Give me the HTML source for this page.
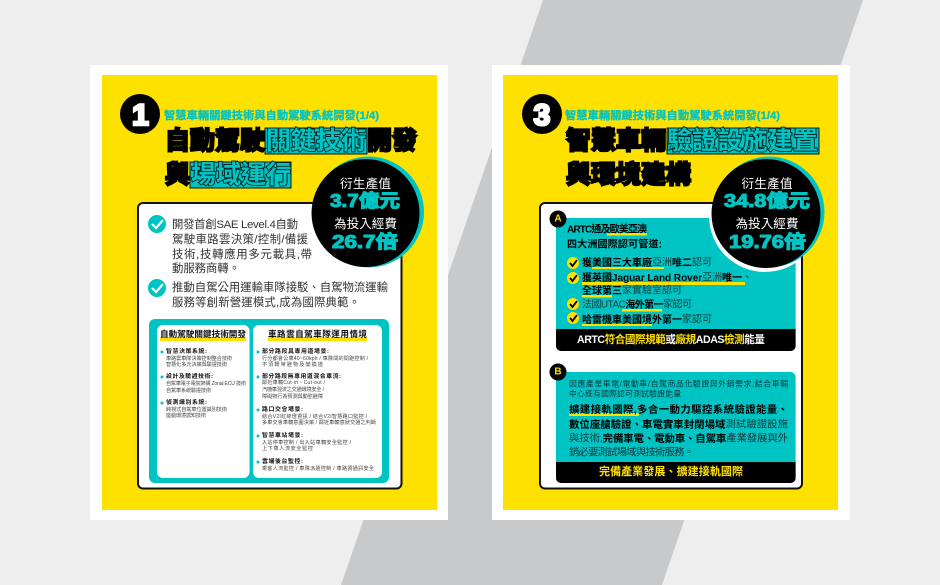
<!DOCTYPE html>
<html lang="zh-Hant">
<head>
<meta charset="utf-8">
<title>智慧車輛關鍵技術與自動駕駛系統開發</title>
<style>
html,body{margin:0;padding:0;background:#eee;width:940px;height:585px;overflow:hidden}
svg{display:block}
text{font-family:"Liberation Sans","Noto Sans CJK TC",sans-serif;dominant-baseline:central}
.sub{font-size:11px;font-weight:700;fill:#00c4c4;stroke:#00c4c4;stroke-width:.3px}
.hd{font-size:25px;font-weight:700;fill:#000;stroke:#000;stroke-width:2.2px}
.hl{font-size:25px;font-weight:700;fill:#00c4c4;stroke:#062c2c;stroke-width:2px;paint-order:stroke}
.cw{font-size:12.6px;fill:#fff}
.cn{font-weight:700;fill:#00c4c4;stroke:#00c4c4;stroke-width:1.1px}
.big{font-size:11.4px;fill:#333}
.card-h{font-size:8.6px;font-weight:700;fill:#111}
.t{font-size:5.9px;font-weight:700;fill:#111}
.s{font-size:5.1px;fill:#444}
.a{font-size:10px;fill:#1a3a3a}
.b{font-weight:700;fill:#000}
.p1{font-size:7.8px;fill:#12383a}
.p2{font-size:10.4px;fill:#12383a}
.bar{font-size:10.6px;font-weight:700;fill:#fff}
.y{fill:#ffe100}
.ul{fill:#ffe100}
</style>
</head>
<body>
<svg width="940" height="585" viewBox="0 0 940 585" xmlns="http://www.w3.org/2000/svg">
<defs>
<clipPath id="clipR"><rect x="541" y="204" width="260" height="283"/></clipPath>
</defs>
<rect width="940" height="585" fill="#eeeeee"/>
<polygon points="543,0 863,0 662,585 341,585" fill="#c8c9ca"/>

<!-- LEFT CARD -->
<g>
<rect x="90" y="65" width="358" height="455" fill="#fff"/>
<rect x="102" y="75" width="335" height="435" fill="#ffe100"/>
<circle cx="140" cy="114" r="20" fill="#000"/>
<text x="140.500" y="115.500" text-anchor="middle" font-size="30" font-weight="700" fill="#fff" stroke="#fff" stroke-width="2.600">1</text>
<text class="sub" x="164" y="116" textLength="215" lengthAdjust="spacingAndGlyphs">智慧車輛關鍵技術與自動駕駛系統開發(1/4)</text>

<rect x="265" y="128" width="102" height="26" fill="#00c4c4" stroke="#111" stroke-width="1"/>
<rect x="190" y="162" width="101" height="26" fill="#00c4c4" stroke="#111" stroke-width="1"/>
<text class="hd" x="165" y="141" textLength="100">自動駕駛</text>
<text class="hl" x="266" y="141" textLength="100">關鍵技術</text>
<text class="hd" x="367" y="141" textLength="50">開發</text>
<text class="hd" x="165" y="175">與</text>
<text class="hl" x="191" y="175" textLength="100">場域運行</text>

<rect x="138" y="203" width="263.500" height="285.500" rx="5" fill="#fff" stroke="#111" stroke-width="2"/>

<circle cx="157" cy="224" r="9" fill="#00c4c4"/>
<polyline points="152,224 156,228 163,220" fill="none" stroke="#fff" stroke-width="2.2"/>
<text class="big" x="172" y="225" textLength="126">開發首創SAE Level.4自動</text>
<text class="big" x="172" y="240" textLength="136">駕駛車路雲決策/控制/備援</text>
<text class="big" x="172" y="255" textLength="140">技術,技轉應用多元載具,帶</text>
<text class="big" x="172" y="269" textLength="68">動服務商轉。</text>
<circle cx="157" cy="288" r="9" fill="#00c4c4"/>
<polyline points="152,288 156,292 163,284" fill="none" stroke="#fff" stroke-width="2.2"/>
<text class="big" x="172" y="288" textLength="216">推動自駕公用運輸車隊接駁、自駕物流運輸</text>
<text class="big" x="172" y="303" textLength="188">服務等創新營運模式,成為國際典範。</text>

<rect x="149" y="319" width="240" height="164" rx="6" fill="#00c4c4"/>
<rect x="157" y="325" width="92.500" height="153" rx="6" fill="#fff"/>
<rect x="253" y="325" width="129" height="153" rx="6" fill="#fff"/>
<rect x="160" y="337" width="86" height="4" class="ul"/>
<rect x="268" y="337" width="99" height="4" class="ul"/>
<text class="card-h" x="160" y="334" textLength="86">自動駕駛關鍵技術開發</text>
<text class="card-h" x="268" y="334" textLength="99">車路雲自駕車隊運用情境</text>

<g>
<circle cx="162" cy="352" r="1.500" fill="#00c4c4"/><circle cx="162" cy="377" r="1.500" fill="#00c4c4"/><circle cx="162" cy="403" r="1.500" fill="#00c4c4"/>
<text class="t" x="166" y="352" textLength="41">智慧決策系統:</text>
<text class="s" x="166" y="359" textLength="66">車路雲車隊決策控制整合技術</text>
<text class="s" x="166" y="365" textLength="61">智慧化多元決策與驗證技術</text>
<text class="t" x="166" y="377" textLength="47">設計及驗證技術:</text>
<text class="s" x="166" y="384" textLength="80">自駕車電子電氣架構 Zonal ECU 技術</text>
<text class="s" x="166" y="391" textLength="45">自駕車系統驗證技術</text>
<text class="t" x="166" y="403" textLength="41">偵測識別系統:</text>
<text class="s" x="166" y="410" textLength="61">純視式自駕車位置識別技術</text>
<text class="s" x="166" y="416" textLength="40">座艙環境感知技術</text>
</g>

<g>
<circle cx="258" cy="352" r="1.500" fill="#00c4c4"/><circle cx="258" cy="377" r="1.500" fill="#00c4c4"/><circle cx="258" cy="410" r="1.500" fill="#00c4c4"/><circle cx="258" cy="436" r="1.500" fill="#00c4c4"/><circle cx="258" cy="462" r="1.500" fill="#00c4c4"/>
<text class="t" x="262" y="352" textLength="67">部分路段具專用道場景:</text>
<text class="s" x="262" y="359" textLength="106">行分都會公車40~60kph / 車隊間的間距控制 /</text>
<text class="s" x="262" y="365" textLength="61">不須轉彎避物及變換道</text>
<text class="t" x="262" y="377" textLength="79">部分路段無專用道混合車流:</text>
<text class="s" x="262" y="383" textLength="63">鄰近車輛Cut-in、Cut-out /</text>
<text class="s" x="262" y="390" textLength="62">汽機車混流之交通環境安全 /</text>
<text class="s" x="262" y="397" textLength="61">障礙物行為預測與動態避障</text>
<text class="t" x="262" y="410" textLength="41">路口交會場景:</text>
<text class="s" x="262" y="417" textLength="105">結合V2I紅綠燈資訊 / 結合V2I智慧路口監控 /</text>
<text class="s" x="262" y="423" textLength="114">多車交會車輛意圖決策 / 鄰近車輛意狀交通之判斷</text>
<text class="t" x="262" y="436" textLength="41">智慧車站場景:</text>
<text class="s" x="262" y="443" textLength="89">入站停車控制 / 出入站車輛安全監控 /</text>
<text class="s" x="262" y="449" textLength="51">上下車人流安全監控</text>
<text class="t" x="262" y="462" textLength="41">雲端後台監控:</text>
<text class="s" x="262" y="469" textLength="112">乘客人流監控 / 車隊派遣控制 / 車路資通訊安全</text>
</g>

<g>
<circle cx="368.500" cy="212" r="55.500" fill="#00c4c4"/>
<circle cx="365.500" cy="213" r="54" fill="#000"/>
<text class="cw" x="365.500" y="184" text-anchor="middle" textLength="51">衍生產值</text>
<text class="cn" x="330" y="201" font-size="18" textLength="70" lengthAdjust="spacingAndGlyphs">3.7億元</text>
<text class="cw" x="365.500" y="224" text-anchor="middle" textLength="63">為投入經費</text>
<text class="cn" x="332" y="242" font-size="18" textLength="66" lengthAdjust="spacingAndGlyphs">26.7倍</text>
</g>
</g>

<!-- RIGHT CARD -->
<g>
<rect x="492" y="65" width="358" height="455" fill="#fff"/>
<rect x="503" y="75" width="335" height="435" fill="#ffe100"/>
<circle cx="542" cy="114" r="20" fill="#000"/>
<text x="542" y="115.500" text-anchor="middle" font-size="30" font-weight="700" fill="#fff" stroke="#fff" stroke-width="2.600">3</text>
<text class="sub" x="565" y="116" textLength="215" lengthAdjust="spacingAndGlyphs">智慧車輛關鍵技術與自動駕駛系統開發(1/4)</text>

<rect x="667" y="128" width="152" height="26" fill="#00c4c4" stroke="#111" stroke-width="1"/>
<text class="hd" x="566" y="141" textLength="100">智慧車輛</text>
<text class="hl" x="667" y="141" textLength="151">驗證設施建置</text>
<text class="hd" x="566" y="175" textLength="125">與環境建構</text>

<rect x="540" y="203" width="262" height="285.500" rx="5" fill="#fff" stroke="#111" stroke-width="2"/>

<path d="M556 218H795.600V346a5 5 0 0 1-5 5H561a5 5 0 0 1-5-5Z" fill="#00c4c4"/>
<path d="M556 329H795.600V346a5 5 0 0 1-5 5H561a5 5 0 0 1-5-5Z" fill="#000"/>
<circle cx="558" cy="219" r="8.500" fill="#000"/>
<text x="558" y="219" text-anchor="middle" font-size="10" font-weight="700" fill="#ffe100">A</text>

<rect x="607" y="233" width="40" height="2.500" class="ul"/>
<text class="a b" x="567" y="230" textLength="80">ARTC通及歐美亞澳</text>
<text class="a b" x="567" y="245" textLength="95">四大洲國際認可管道:</text>

<g>
<rect x="592" y="267" width="72" height="2" class="ul"/>
<rect x="582" y="282" width="163" height="3" class="ul"/>
<rect x="582" y="295" width="30" height="2.500" class="ul"/>
<rect x="622" y="309" width="40" height="2.500" class="ul"/>
<rect x="582" y="324" width="70" height="2" class="ul"/>
<circle cx="573" cy="263" r="6" fill="#ffe100"/><polyline points="570,263 572.500,266 577,260" fill="none" stroke="#000" stroke-width="1.800"/>
<circle cx="573" cy="278" r="6" fill="#ffe100"/><polyline points="570,278 572.500,281 577,275" fill="none" stroke="#000" stroke-width="1.800"/>
<circle cx="573" cy="304" r="6" fill="#ffe100"/><polyline points="570,304 572.500,307 577,301" fill="none" stroke="#000" stroke-width="1.800"/>
<circle cx="573" cy="318" r="6" fill="#ffe100"/><polyline points="570,318 572.500,321 577,315" fill="none" stroke="#000" stroke-width="1.800"/>
<text class="a" x="582" y="263" textLength="130"><tspan class="b">獲美國三大車廠</tspan>亞洲<tspan class="b">唯二</tspan>認可</text>
<text class="a" x="582" y="278" textLength="170"><tspan class="b">獲英國Jaguar Land Rover</tspan>亞洲<tspan class="b">唯一</tspan>、</text>
<text class="a" x="582" y="291" textLength="100"><tspan class="b">全球第三</tspan>家實驗室認可</text>
<text class="a" x="582" y="305" textLength="110">法國UTAC<tspan class="b">海外第一</tspan>家認可</text>
<text class="a" x="582" y="320" textLength="130"><tspan class="b">哈雷機車美國境外第一</tspan>家認可</text>
</g>
<text class="bar" x="577" y="340" textLength="188">ARTC<tspan class="y">符合國際規範</tspan>或<tspan class="y">廠規</tspan>ADAS<tspan class="y">檢測</tspan>能量</text>

<path d="M556 372H790.600a5 5 0 0 1 5 5V478a5 5 0 0 1-5 5H561a5 5 0 0 1-5-5Z" fill="#00c4c4"/>
<path d="M556 462H795.600V478a5 5 0 0 1-5 5H561a5 5 0 0 1-5-5Z" fill="#000"/>
<circle cx="558" cy="372" r="8.500" fill="#000"/>
<text x="558" y="372" text-anchor="middle" font-size="10" font-weight="700" fill="#ffe100">B</text>
<text class="p1" x="569" y="384" textLength="219">因應產業車電/電動車/自駕商品化驗證與外銷需求,結合車輛</text>
<text class="p1" x="569" y="394" textLength="112">中心既有國際認可測試驗證能量</text>
<rect x="569" y="413" width="70" height="3" class="ul"/>
<text class="p2" x="569" y="410" textLength="219"><tspan class="b">擴建接軌國際,多合一動力驅控系統驗證能量、</tspan></text>
<text class="p2" x="569" y="425" textLength="219"><tspan class="b">數位座艙驗證、車電實車封閉場域</tspan>測試驗證設施</text>
<text class="p2" x="569" y="439" textLength="219">與技術,<tspan class="b">完備車電、電動車、自駕車</tspan>產業發展與外</text>
<text class="p2" x="569" y="453" textLength="125">銷必要測試場域與技術服務。</text>
<text class="bar y" x="599" y="472" textLength="144" style="font-size:11px">完備產業發展、擴建接軌國際</text>

<g>
<circle cx="765" cy="216" r="56" fill="#fff" clip-path="url(#clipR)"/>
<circle cx="769" cy="212" r="55.500" fill="#00c4c4"/>
<circle cx="766" cy="213.500" r="54.500" fill="#000"/>
<text class="cw" x="767" y="184" text-anchor="middle" textLength="51">衍生產值</text>
<text class="cn" x="724" y="201" font-size="18" textLength="86" lengthAdjust="spacingAndGlyphs">34.8億元</text>
<text class="cw" x="767" y="224" text-anchor="middle" textLength="63">為投入經費</text>
<text class="cn" x="729" y="242" font-size="18" textLength="77" lengthAdjust="spacingAndGlyphs">19.76倍</text>
</g>
</g>
</svg>
</body>
</html>
